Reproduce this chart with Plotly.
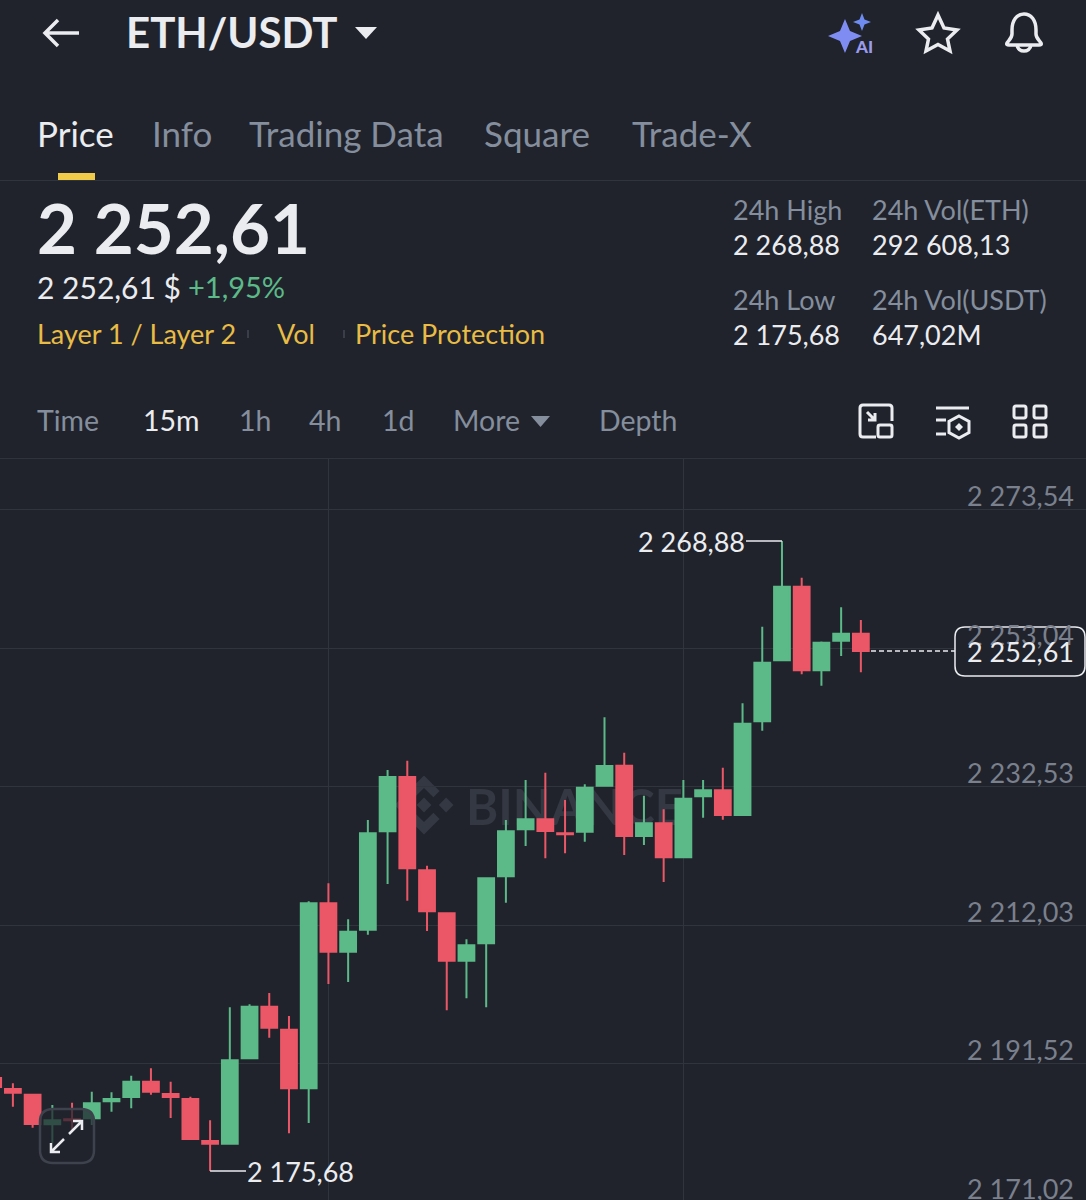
import re
import plotly.graph_objects as go

W, H = 1086, 1200
BG = "#20232C"
WHITE = "#EAECEF"
GREY = "#848E9C"
AXIS_GREY = "#7A808C"
GREEN = "#5BBA88"
RED = "#EB5766"
YELLOW = "#E8BC45"
GRID = "#30343D"
FONT = "Lato"

# candles
candle_index = list(range(-1, 44))
opens = [2189.43, 2187.80, 2186.96, 2182.58, 2183.34, 2183.47, 2185.98, 2186.62, 2188.88, 2187.06,
         2186.32, 2180.11, 2179.71, 2192.34, 2199.98, 2196.57, 2187.91, 2215.27, 2208.11, 2211.37,
         2225.92, 2233.96, 2220.16, 2213.79, 2206.78, 2209.36, 2219.27, 2226.22, 2227.70, 2225.63,
         2225.87, 2232.67, 2235.63, 2225.23, 2227.11, 2222.08, 2231.10, 2231.99, 2228.34, 2242.20,
         2251.22, 2262.11, 2249.74, 2254.12, 2255.16]
highs = [2189.87, 2188.65, 2187.11, 2185.44, 2185.78, 2187.40, 2187.31, 2189.77, 2190.87, 2188.88,
         2186.66, 2183.17, 2199.89, 2200.33, 2202.00, 2198.60, 2215.57, 2218.23, 2212.91, 2227.60,
         2234.99, 2236.37, 2220.84, 2213.94, 2209.95, 2219.12, 2227.60, 2233.51, 2234.59, 2230.55,
         2232.88, 2242.79, 2237.55, 2231.19, 2229.18, 2233.51, 2233.51, 2235.33, 2244.86, 2256.19,
         2268.88, 2263.44, 2254.00, 2259.06, 2257.18]
lows = [2187.36, 2185.18, 2182.08, 2179.81, 2181.74, 2182.48, 2184.44, 2184.95, 2186.96, 2183.51,
        2180.26, 2175.68, 2179.56, 2192.20, 2195.39, 2181.25, 2182.77, 2203.34, 2203.63, 2210.63,
        2218.13, 2215.66, 2211.18, 2199.44, 2201.22, 2199.89, 2215.36, 2223.75, 2221.93, 2222.67,
        2224.39, 2232.52, 2222.42, 2223.90, 2218.42, 2221.93, 2227.94, 2227.64, 2228.19, 2240.81,
        2251.07, 2249.15, 2247.46, 2251.86, 2249.45]
closes = [2188.10, 2187.25, 2182.63, 2183.17, 2183.19, 2185.69, 2186.32, 2188.88, 2187.40, 2186.62,
          2180.41, 2179.71, 2192.05, 2199.98, 2196.87, 2187.91, 2215.27, 2208.11, 2211.07, 2225.63,
          2233.96, 2220.45, 2214.09, 2206.78, 2209.06, 2218.97, 2225.92, 2227.70, 2225.97, 2225.48,
          2232.37, 2235.58, 2225.23, 2227.11, 2222.08, 2230.75, 2231.99, 2228.34, 2241.84, 2250.87,
          2262.11, 2249.74, 2253.82, 2255.16, 2252.61]

price_ticks = [2273.54, 2253.04, 2232.53, 2212.03, 2191.52, 2171.02]
price_tick_labels = ["2 273,54", "2 253,04", "2 232,53", "2 212,03", "2 191,52", "2 171,02"]
time_grid_index = [16, 34]
last_price = 2252.61
high_price = 2268.88
low_price = 2175.68

# chart area in page pixels: 6.76 px per USDT, 2253.04 sits at y=648
CHART_TOP = 459
PX_PER_USDT = 6.76
y_max = 2253.04 + (648 - CHART_TOP) / PX_PER_USDT
y_min = 2253.04 - (H - 648) / PX_PER_USDT
X_STEP = 19.72
X_ZERO = 12.9


def price_y(p):
    return 648 + (2253.04 - p) * PX_PER_USDT


def px(x):
    return x / W


def py(y):
    return 1 - y / H


def path(s):
    # path written in page pixels, turned into paper coordinates
    return re.sub(r"(-?[\d.]+) (-?[\d.]+)", lambda m: f"{px(float(m[1])):.5f} {py(float(m[2])):.5f}", s)


shapes = []
annotations = []


def stroke(s, color=WHITE, width=3, fill=None, layer="above"):
    shapes.append(dict(type="path", xref="paper", yref="paper", path=path(s), layer=layer,
                       line=dict(color=color, width=width), fillcolor=fill or "rgba(0,0,0,0)"))


def solid(s, color, layer="above"):
    shapes.append(dict(type="path", xref="paper", yref="paper", path=path(s), layer=layer,
                       line=dict(width=0), fillcolor=color))


def label(x, y, text, size, color=WHITE, anchor="left", weight=400):
    annotations.append(dict(xref="paper", yref="paper", x=px(x), y=py(y), text=text, showarrow=False,
                            xanchor=anchor, yanchor="middle", borderpad=0, borderwidth=0,
                            font=dict(family=FONT, size=size, color=color, weight=weight)))


def round_rect(x0, y0, x1, y1, r):
    return (f"M{x0 + r} {y0} L{x1 - r} {y0} Q{x1} {y0} {x1} {y0 + r} L{x1} {y1 - r} Q{x1} {y1} {x1 - r} {y1} "
            f"L{x0 + r} {y1} Q{x0} {y1} {x0} {y1 - r} L{x0} {y0 + r} Q{x0} {y0} {x0 + r} {y0} Z")


# header
stroke("M45 33 L79 33 M58 20 L45 33 L58 46", width=3.5)
label(126, 32, "ETH/USDT", 42, weight=700)
solid("M355 27 L377 27 L366 39 Z", WHITE)
solid("M845 19 L850 31 L862 36 L850 41 L845 53 L840 41 L828 36 L840 31 Z", "#7F8DF2")
solid("M862 13 L864.5 19.5 L871 22 L864.5 24.5 L862 31 L859.5 24.5 L853 22 L859.5 19.5 Z", "#6F8BF0")
label(864, 46, "AI", 17, "#9A9BEA", "center", 900)
stroke("M938 15 L944 28 L957 30 L947.5 39 L950 51 L938 44.5 L926 51 L928.5 39 L919 30 L932 28 Z", width=3.5)
stroke("M1012 30 C1012 20 1017 14 1024 14 C1031 14 1036 20 1036 30 L1036 34 C1036 38 1039 40 1041 43 "
       "Q1042 45 1039 45 L1009 45 Q1006 45 1007 43 C1009 40 1012 38 1012 34 Z "
       "M1017 45 C1018 53 1030 53 1031 45", width=3.5)

# tabs
for x, text, color in [(37, "Price", WHITE), (152, "Info", GREY), (249, "Trading Data", GREY),
                       (484, "Square", GREY), (632, "Trade-X", GREY)]:
    label(x, 133, text, 35, color)
solid("M58 173 L95 173 L95 180 L58 180 Z", "#F0CB4A")
stroke("M0 180.5 L1086 180.5", GRID, 1)

# price block
label(37, 228, "2 252,61", 69, WHITE, weight=700)
label(37, 287, "2 252,61 $", 30)
label(188, 287, "+1,95%", 29, GREEN)
label(37, 333, "Layer 1 / Layer 2", 27, YELLOW)
label(277, 333, "Vol", 27, YELLOW)
label(355, 333, "Price Protection", 27, YELLOW)
stroke("M248 330 L248 338", "#3A3E48", 2)
stroke("M344 330 L344 338", "#3A3E48", 2)

for x, rows in [(733, [("24h High", "2 268,88"), ("24h Low", "2 175,68")]),
                (872, [("24h Vol(ETH)", "292 608,13"), ("24h Vol(USDT)", "647,02M")])]:
    for (head, value), y in zip(rows, [209, 299]):
        label(x, y, head, 27, GREY)
        label(x, y + 35, value, 27, WHITE)

# interval row
for x, text, color in [(37, "Time", GREY), (143, "15m", WHITE), (239, "1h", GREY), (309, "4h", GREY),
                       (382, "1d", GREY), (453, "More", GREY), (599, "Depth", GREY)]:
    label(x, 420, text, 28.5, color)
solid("M531 416 L550 416 L540.5 427 Z", GREY)
stroke("M876 437 L863 437 Q860 437 860 434 L860 408 Q860 405 863 405 L889 405 Q892 405 892 408 L892 421", width=3)
stroke(round_rect(878, 425, 892, 437, 2), width=3)
stroke("M867 412 L875 420 M875 413 L875 420 L868 420", width=3)
stroke("M936 408 L969 408 M936 420 L946 420 M936 434 L946 434", width=3)
stroke("M959 416 L969 421.5 L969 432.5 L959 438 L949 432.5 L949 421.5 Z", width=3)
solid("M959 423 L963 427 L959 431 L955 427 Z", WHITE)
for x0, y0 in [(1014, 406), (1034, 406), (1014, 425), (1034, 425)]:
    stroke(round_rect(x0, y0, x0 + 12, y0 + 12, 2), width=3)
stroke("M0 458.5 L1086 458.5", GRID, 1)

# watermark, below the candles
WM = "#343842"
cx, cy, r = 424, 805, 29.5


def wm_poly(points):
    solid("M" + " L".join(f"{cx + a * r:.1f} {cy + b * r:.1f}" for a, b in points) + " Z", WM, "below")


wm_poly([(0, -1), (0.53, -0.47), (0.32, -0.26), (0, -0.58), (-0.32, -0.26), (-0.53, -0.47)])
wm_poly([(0, 1), (0.53, 0.47), (0.32, 0.26), (0, 0.58), (-0.32, 0.26), (-0.53, 0.47)])
wm_poly([(0, -0.25), (0.25, 0), (0, 0.25), (-0.25, 0)])
wm_poly([(0.75, -0.25), (1, 0), (0.75, 0.25), (0.5, 0)])
wm_poly([(-0.75, -0.25), (-1, 0), (-0.75, 0.25), (-0.5, 0)])
shapes.append(dict(type="rect", xref="paper", yref="paper", x0=px(463), x1=px(700), y0=py(780), y1=py(830),
                   layer="below", line=dict(width=0), fillcolor="rgba(0,0,0,0)",
                   label=dict(text="BINANCE", textposition="middle left", padding=0,
                              font=dict(family=FONT, size=49, color=WM, weight=700))))

# axis labels
for p, text in zip(price_ticks, price_tick_labels):
    label(1073.5, price_y(p) - 14, text, 27, AXIS_GREY, "right")

# high, low and last price markers
shapes.append(dict(type="line", xref="paper", yref="y", x0=px(746), x1=px(X_ZERO + 39 * X_STEP),
                   y0=high_price, y1=high_price, line=dict(color=WHITE, width=1.5)))
shapes.append(dict(type="line", xref="paper", yref="y", x0=px(X_ZERO + 10 * X_STEP), x1=px(246),
                   y0=low_price, y1=low_price, line=dict(color=WHITE, width=1.5)))
label(745, price_y(high_price) + 1, "2 268,88", 27, WHITE, "right")
label(247, price_y(low_price) + 1, "2 175,68", 27)
shapes.append(dict(type="line", xref="paper", yref="y", x0=px(871), x1=px(955),
                   y0=last_price, y1=last_price, line=dict(color=WHITE, width=1.5, dash="5px,3px")))
stroke(round_rect(955, 627, 1085, 676, 10), WHITE, 1.5, BG)
label(1020, price_y(last_price) + 1, "2 252,61", 27, WHITE, "center")

# expand button over the candles
stroke(round_rect(40, 1109, 94, 1163, 13), "#3D424C", 2.5, "rgba(32,35,44,0.72)")
stroke("M69 1134 L82 1121 M73 1121 L82 1121 L82 1130 M64 1139 L51 1152 M51 1143 L51 1152 L60 1152", WHITE, 2.5)

candles = go.Candlestick(
    x=candle_index, open=opens, high=highs, low=lows, close=closes,
    increasing=dict(fillcolor=GREEN, line=dict(color=GREEN, width=2)),
    decreasing=dict(fillcolor=RED, line=dict(color=RED, width=2)),
    whiskerwidth=0, hoverinfo="skip", showlegend=False,
)

fig = go.Figure(candles)
fig.update_layout(
    width=W, height=H, margin=dict(l=0, r=0, t=0, b=0), autosize=False,
    paper_bgcolor=BG, plot_bgcolor="rgba(0,0,0,0)", showlegend=False,
    boxgap=0.2, boxgroupgap=0,
    xaxis=dict(domain=[0, 1], range=[-X_ZERO / X_STEP, (W - X_ZERO) / X_STEP], rangeslider=dict(visible=False),
               tickmode="array", tickvals=time_grid_index, showticklabels=False, ticks="",
               showgrid=True, gridcolor=GRID, gridwidth=1, zeroline=False, showline=False),
    yaxis=dict(domain=[0, 1 - CHART_TOP / H], range=[y_min, y_max], tickmode="array", tickvals=price_ticks,
               showticklabels=False, ticks="", showgrid=True, gridcolor=GRID, gridwidth=1,
               zeroline=False, showline=False),
    shapes=shapes, annotations=annotations,
)

fig.write_html("out.html", config=dict(displayModeBar=False),
               post_script="document.body.style.margin='0';document.body.style.background='%s';" % BG)
